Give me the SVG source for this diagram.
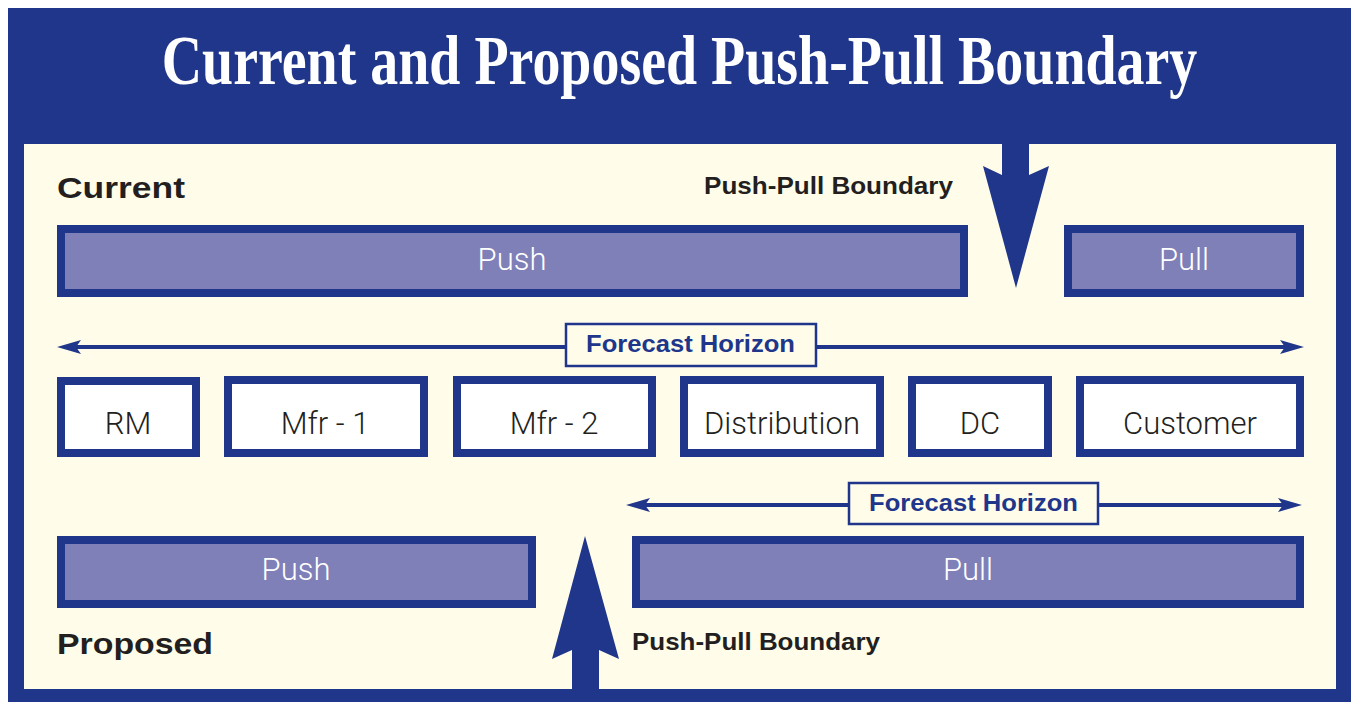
<svg xmlns="http://www.w3.org/2000/svg" width="1351" height="702" viewBox="0 0 1351 702">
<defs>
<style>
.bar{fill:#8080b8;stroke:#20368a;stroke-width:8}
.node{fill:#ffffff;stroke:#20368a;stroke-width:8}
.lbl{fill:#fffdea;stroke:#20368a;stroke-width:2.5}
.blue{fill:#20368a}
.bartext{font-family:Roboto,"Liberation Sans",sans-serif;font-weight:300;font-size:31px;fill:#ffffff;text-anchor:middle}
.nodetext{font-family:Roboto,"Liberation Sans",sans-serif;font-weight:300;font-size:31px;fill:#231f20;text-anchor:middle}
.fh{font-family:"Liberation Sans",Arial,sans-serif;font-weight:bold;font-size:24px;fill:#20368a}
.ppb{font-family:"Liberation Sans",Arial,sans-serif;font-weight:bold;font-size:24px;fill:#231f20}
.sec{font-family:"Liberation Sans",Arial,sans-serif;font-weight:bold;font-size:30px;fill:#231f20}
.line{stroke:#20368a;stroke-width:4;fill:none}
</style>
</defs>
<rect x="0" y="0" width="1351" height="702" fill="#ffffff"/>
<rect x="8" y="8" width="1343" height="694" fill="#20368a"/>
<rect x="24" y="144" width="1312" height="545" fill="#fffdea"/>
<g id="title">
<text x="0" y="0" font-family="'Liberation Serif','Times New Roman',serif" font-weight="bold" font-size="60" fill="#ffffff" text-anchor="middle" transform="translate(679.5,84) scale(0.932,1.17)">Current and Proposed Push-Pull Boundary</text>
</g>

<text class="sec" x="57" y="198" textLength="128" lengthAdjust="spacingAndGlyphs">Current</text>
<text class="sec" x="57" y="654" textLength="156" lengthAdjust="spacingAndGlyphs">Proposed</text>
<text class="ppb" x="704" y="194" textLength="249" lengthAdjust="spacingAndGlyphs">Push-Pull Boundary</text>
<text class="ppb" x="632" y="650" textLength="248" lengthAdjust="spacingAndGlyphs">Push-Pull Boundary</text>

<g id="connectors">
<polygon id="arrow-down" class="blue" points="1002,130 1029,130 1029,175 1049,166 1016,288 983,166 1002,175"/>
<polygon id="arrow-up" class="blue" points="585,536 619,659 599,650 599,702 572,702 572,650 552,659"/>
<g id="fh1">
<line class="line" x1="75" y1="347" x2="566" y2="347"/>
<line class="line" x1="816" y1="347" x2="1286" y2="347"/>
<polygon class="blue" points="57,347 81,340 76,347 81,354"/>
<polygon class="blue" points="1304,347 1280,340 1285,347 1280,354"/>
</g>
<g id="fh2">
<line class="line" x1="644" y1="505" x2="849" y2="505"/>
<line class="line" x1="1098" y1="505" x2="1284" y2="505"/>
<polygon class="blue" points="626,505 650,498 645,505 650,512"/>
<polygon class="blue" points="1302,505 1278,498 1283,505 1278,512"/>
</g>
</g>

<g id="fh1-label"><rect class="lbl" x="566" y="324" width="250" height="42"/><text class="fh" x="586" y="352" textLength="209" lengthAdjust="spacingAndGlyphs">Forecast Horizon</text></g>
<g id="fh2-label"><rect class="lbl" x="849" y="483" width="249" height="41"/><text class="fh" x="869" y="511" textLength="209" lengthAdjust="spacingAndGlyphs">Forecast Horizon</text></g>

<g id="cur-push"><rect class="bar" x="61" y="229" width="903" height="64"/><text class="bartext" x="512" y="270">Push</text></g>
<g id="cur-pull"><rect class="bar" x="1068" y="229" width="232" height="64"/><text class="bartext" x="1184" y="270">Pull</text></g>

<g id="rm"><rect class="node" x="61" y="381" width="135" height="72"/><text class="nodetext" x="128" y="434">RM</text></g>
<g id="mfr1"><rect class="node" x="228" y="380" width="196" height="73"/><text class="nodetext" x="325" y="434">Mfr - 1</text></g>
<g id="mfr2"><rect class="node" x="457" y="380" width="195" height="73"/><text class="nodetext" x="554" y="434">Mfr - 2</text></g>
<g id="distribution"><rect class="node" x="684" y="380" width="196" height="73"/><text class="nodetext" x="782" y="434">Distribution</text></g>
<g id="dc"><rect class="node" x="912" y="380" width="136" height="73"/><text class="nodetext" x="980" y="434">DC</text></g>
<g id="customer"><rect class="node" x="1080" y="380" width="220" height="73"/><text class="nodetext" x="1190" y="434">Customer</text></g>

<g id="prop-push"><rect class="bar" x="61" y="540" width="471" height="64"/><text class="bartext" x="296" y="580">Push</text></g>
<g id="prop-pull"><rect class="bar" x="636" y="540" width="664" height="64"/><text class="bartext" x="968" y="580">Pull</text></g>
</svg>
